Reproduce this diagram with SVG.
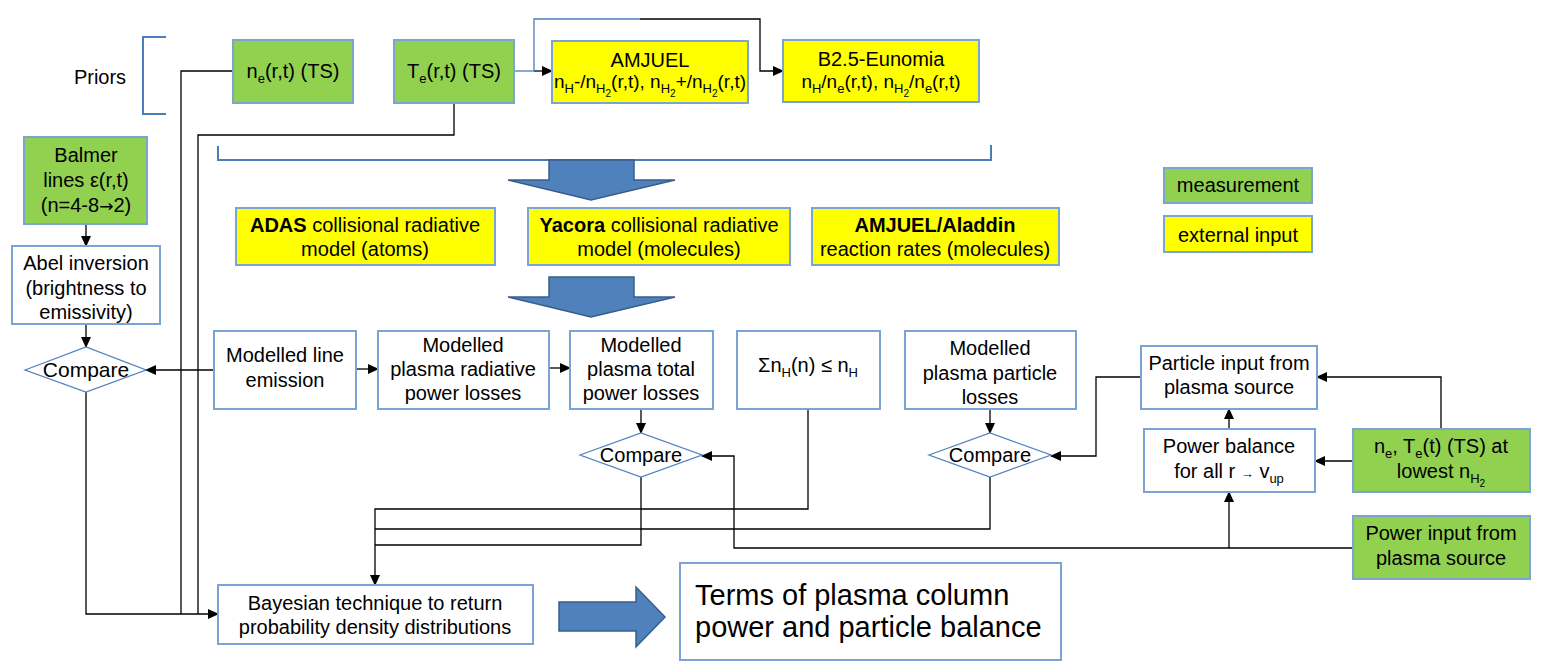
<svg xmlns="http://www.w3.org/2000/svg" width="1544" height="671" viewBox="0 0 1544 671">
<style>
.t{font-family:"Liberation Sans",Arial,sans-serif;font-size:20px;fill:#000;text-anchor:middle}
.s{font-size:13px}
.ss{font-size:10px}
.arr{font-family:"DejaVu Sans",sans-serif;font-size:17px}
.box{stroke:#7ba3d6;stroke-width:2}
.w{fill:#fff}.g{fill:#92d050}.y{fill:#ffff00}
.dia{fill:#fff;stroke:#4f81bd;stroke-width:1.3}
.c{fill:none;stroke:#000;stroke-width:1.3}
.cb{fill:none;stroke:#4a7ebb;stroke-width:1.3}
.br{fill:none;stroke:#4a7ebb;stroke-width:2}
.big{fill:#4f81bd;stroke:#385d8a;stroke-width:1.5}
</style>
<defs>
<marker id="a" markerUnits="userSpaceOnUse" markerWidth="11" markerHeight="10" refX="10" refY="5" orient="auto"><path d="M0,0 L11,5 L0,10 z" fill="#000"/></marker>
</defs>
<rect width="1544" height="671" fill="#fff"/>

<g id="priors">
<text class="t" x="100" y="84">Priors</text>
<path class="br" d="M166,37 H143 V114 H166"/>
</g>

<g id="connectors">
<path class="c" d="M86,392 V614 H218" marker-end="url(#a)"/>
<path class="c" d="M233,71 H181 V614"/>
<path class="c" d="M454,103 V135 H198 V614"/>
<path class="cb" d="M514,71 H534"/>
<path class="c" d="M534,71 H552" marker-end="url(#a)"/>
<path class="cb" d="M534,71 V19 H640"/>
<path class="c" d="M640,19 H760 V71 H783" marker-end="url(#a)"/>
<path class="c" d="M86,224 V246" marker-end="url(#a)"/>
<path class="c" d="M86,324 V347" marker-end="url(#a)"/>
<path class="c" d="M214,370 H146" marker-end="url(#a)"/>
<path class="c" d="M356,369 H378" marker-end="url(#a)"/>
<path class="c" d="M549,368 H570" marker-end="url(#a)"/>
<path class="c" d="M641,409 V433" marker-end="url(#a)"/>
<path class="c" d="M990,409 V433" marker-end="url(#a)"/>
<path class="c" d="M641,477 V545 H375"/>
<path class="c" d="M990,477 V529 H375"/>
<path class="c" d="M808,409 V509 H375 V585" marker-end="url(#a)"/>
<path class="c" d="M1353,548 H734 V456 H702" marker-end="url(#a)"/>
<path class="c" d="M1229,548 V492" marker-end="url(#a)"/>
<path class="c" d="M1229,429 V409" marker-end="url(#a)"/>
<path class="c" d="M1353,461 H1315" marker-end="url(#a)"/>
<path class="c" d="M1441,429 V377 H1317" marker-end="url(#a)"/>
<path class="c" d="M1141,377 H1096 V456 H1051" marker-end="url(#a)"/>
</g>

<g id="ne">
<rect class="box g" x="233" y="40" width="120" height="63"/>
<text class="t" x="293" y="78">n<tspan class="s" dy="5">e</tspan><tspan dy="-5">(r,t) (TS)</tspan></text>
</g>
<g id="te">
<rect class="box g" x="394" y="40" width="120" height="63"/>
<text class="t" x="454" y="78">T<tspan class="s" dy="5">e</tspan><tspan dy="-5">(r,t) (TS)</tspan></text>
</g>
<g id="amjuel">
<rect class="box y" x="552" y="41" width="196" height="62"/>
<text class="t" x="650" y="67">AMJUEL</text>
<text class="t" x="650" y="88" style="font-size:19px">n<tspan class="s" dy="5">H</tspan><tspan dy="-5">-/n</tspan><tspan class="s" dy="5">H</tspan><tspan class="ss" dy="4">2</tspan><tspan dy="-9">(r,t), n</tspan><tspan class="s" dy="5">H</tspan><tspan class="ss" dy="4">2</tspan><tspan dy="-9">+/n</tspan><tspan class="s" dy="5">H</tspan><tspan class="ss" dy="4">2</tspan><tspan dy="-9">(r,t)</tspan></text>
</g>
<g id="b25">
<rect class="box y" x="783" y="40" width="196" height="62"/>
<text class="t" x="881" y="66">B2.5-Eunomia</text>
<text class="t" x="881" y="88" style="font-size:19px">n<tspan class="s" dy="5">H</tspan><tspan dy="-5">/n</tspan><tspan class="s" dy="5">e</tspan><tspan dy="-5">(r,t), n</tspan><tspan class="s" dy="5">H</tspan><tspan class="ss" dy="4">2</tspan><tspan dy="-9">/n</tspan><tspan class="s" dy="5">e</tspan><tspan dy="-5">(r,t)</tspan></text>
</g>
<g id="bracket2">
<path class="br" d="M218,146 V160 H991 V145"/>
</g>
<g id="bigarrow1">
<path class="big" d="M549,160 H634 V180 H675 L591,200 L508,180 H549 Z"/>
</g>
<g id="bigarrow2">
<path class="big" d="M549,277 H634 V297 H675 L591,317 L508,297 H549 Z"/>
</g>

<g id="balmer">
<rect class="box g" x="24" y="137" width="123" height="87"/>
<text class="t" x="86" y="162">Balmer</text>
<text class="t" x="86" y="187">lines ε(r,t)</text>
<text class="t" x="86" y="212">(n=4-8<tspan class="arr">→</tspan>2)</text>
</g>
<g id="abel">
<rect class="box w" x="12" y="246" width="148" height="78"/>
<text class="t" x="86" y="270">Abel inversion</text>
<text class="t" x="86" y="295">(brightness to</text>
<text class="t" x="86" y="319">emissivity)</text>
</g>
<g id="compare1">
<polygon class="dia" points="25,370 86,347 146,370 86,392"/>
<text class="t" x="86" y="377" style="font-size:21px">Compare</text>
</g>

<g id="adas">
<rect class="box y" x="236" y="208" width="259" height="57"/>
<text class="t" x="365" y="232"><tspan font-weight="bold">ADAS</tspan> collisional radiative</text>
<text class="t" x="365" y="256">model (atoms)</text>
</g>
<g id="yacora">
<rect class="box y" x="528" y="208" width="262" height="57"/>
<text class="t" x="659" y="232"><tspan font-weight="bold">Yacora</tspan> collisional radiative</text>
<text class="t" x="659" y="256">model (molecules)</text>
</g>
<g id="aladdin">
<rect class="box y" x="812" y="208" width="247" height="57"/>
<text class="t" x="935" y="232" font-weight="bold">AMJUEL/Aladdin</text>
<text class="t" x="935" y="256">reaction rates (molecules)</text>
</g>

<g id="legend-measurement">
<rect class="box g" x="1164" y="168" width="148" height="35"/>
<text class="t" x="1238" y="192">measurement</text>
</g>
<g id="legend-external">
<rect class="box y" x="1164" y="216" width="148" height="36"/>
<text class="t" x="1238" y="242">external input</text>
</g>

<g id="lineemission">
<rect class="box w" x="214" y="331" width="142" height="78"/>
<text class="t" x="285" y="362">Modelled line</text>
<text class="t" x="285" y="387">emission</text>
</g>
<g id="radiative">
<rect class="box w" x="378" y="331" width="171" height="78"/>
<text class="t" x="463" y="352">Modelled</text>
<text class="t" x="463" y="376">plasma radiative</text>
<text class="t" x="463" y="400">power losses</text>
</g>
<g id="total">
<rect class="box w" x="570" y="331" width="143" height="78"/>
<text class="t" x="641" y="352">Modelled</text>
<text class="t" x="641" y="376">plasma total</text>
<text class="t" x="641" y="400">power losses</text>
</g>
<g id="sigma">
<rect class="box w" x="737" y="331" width="143" height="78"/>
<text class="t" x="808" y="372">Σn<tspan class="s" dy="5">H</tspan><tspan dy="-5">(n) ≤ n</tspan><tspan class="s" dy="5">H</tspan></text>
</g>
<g id="particlelosses">
<rect class="box w" x="905" y="331" width="171" height="78"/>
<text class="t" x="990" y="355">Modelled</text>
<text class="t" x="990" y="380">plasma particle</text>
<text class="t" x="990" y="404">losses</text>
</g>
<g id="compare2">
<polygon class="dia" points="580,455 641,433 702,455 641,477"/>
<text class="t" x="641" y="462">Compare</text>
</g>
<g id="compare3">
<polygon class="dia" points="929,455 990,433 1051,455 990,477"/>
<text class="t" x="990" y="462">Compare</text>
</g>

<g id="particleinput">
<rect class="box w" x="1141" y="346" width="176" height="63"/>
<text class="t" x="1229" y="370">Particle input from</text>
<text class="t" x="1229" y="394">plasma source</text>
</g>
<g id="powerbalance">
<rect class="box w" x="1144" y="429" width="171" height="63"/>
<text class="t" x="1229" y="453">Power balance</text>
<text class="t" x="1229" y="478">for all r <tspan class="s">→</tspan> v<tspan class="s" dy="5">up</tspan></text>
</g>
<g id="netelowest">
<rect class="box g" x="1353" y="429" width="177" height="63"/>
<text class="t" x="1441" y="453">n<tspan class="s" dy="5">e</tspan><tspan dy="-5">, T</tspan><tspan class="s" dy="5">e</tspan><tspan dy="-5">(t) (TS) at</tspan></text>
<text class="t" x="1441" y="478">lowest n<tspan class="s" dy="5">H</tspan><tspan class="ss" dy="4">2</tspan></text>
</g>
<g id="powerinput">
<rect class="box g" x="1353" y="516" width="177" height="63"/>
<text class="t" x="1441" y="540">Power input from</text>
<text class="t" x="1441" y="565">plasma source</text>
</g>

<g id="bayesian">
<rect class="box w" x="218" y="585" width="315" height="59"/>
<text class="t" x="375" y="610">Bayesian technique to return</text>
<text class="t" x="375" y="634">probability density distributions</text>
</g>
<g id="bigarrow3">
<path class="big" d="M559,602 H636 V587 L665,617 L636,647 V631 H559 Z"/>
</g>
<g id="terms">
<rect class="box w" x="680" y="563" width="381" height="97"/>
<text class="t" x="695" y="605" style="font-size:29px;text-anchor:start">Terms of plasma column</text>
<text class="t" x="695" y="637" style="font-size:29px;text-anchor:start">power and particle balance</text>
</g>
</svg>
